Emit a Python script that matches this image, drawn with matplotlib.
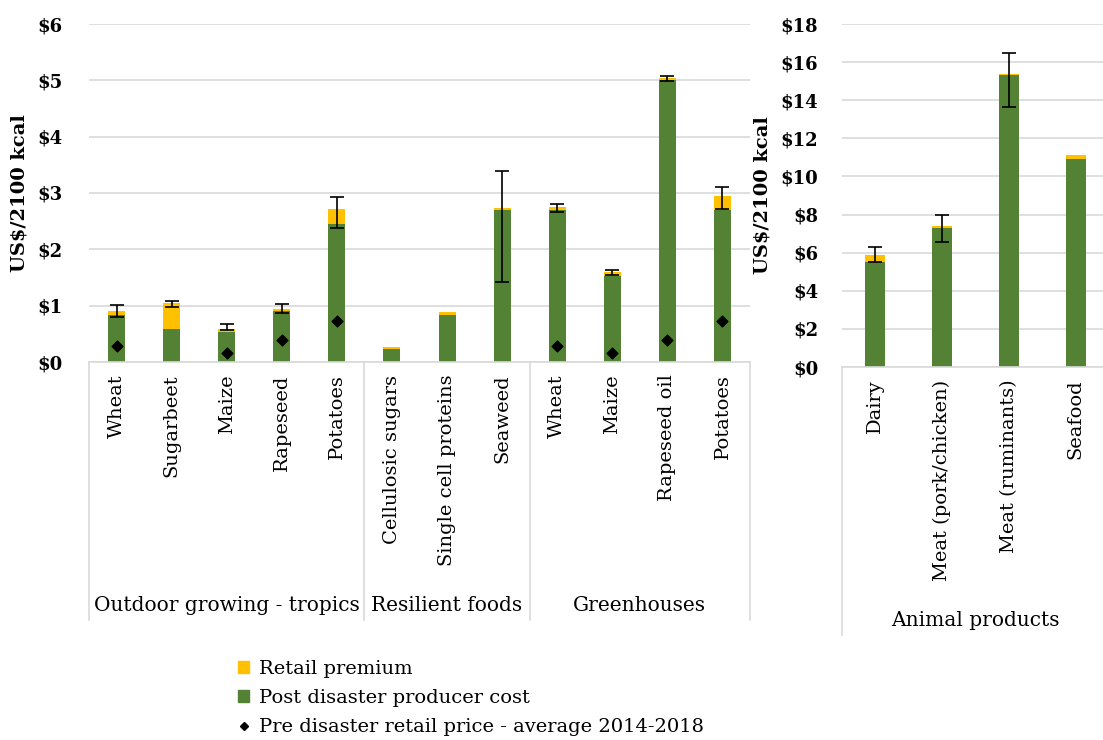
import matplotlib
matplotlib.use("Agg")
import matplotlib.pyplot as plt
import numpy as np
from matplotlib.lines import Line2D
from matplotlib.patches import Patch

plt.rcParams['font.family'] = 'DejaVu Serif'

# --- data: crops / resilient foods (left panel)
left_labels = ["Wheat", "Sugarbeet", "Maize", "Rapeseed", "Potatoes",
               "Cellulosic sugars", "Single cell proteins", "Seaweed",
               "Wheat", "Maize", "Rapeseed oil", "Potatoes"]
left_groups = ["Outdoor growing - tropics", "Resilient foods", "Greenhouses"]
left_group_sizes = [5, 3, 4]
left_producer = [0.83, 0.59, 0.54, 0.91, 2.45, 0.23, 0.83, 2.69, 2.69, 1.53, 5.01, 2.69]
left_retail = [0.905, 1.05, 0.59, 0.94, 2.72, 0.27, 0.88, 2.73, 2.76, 1.59, 5.04, 2.94]
left_err_lo = [0.80, 0.98, 0.57, 0.87, 2.38, np.nan, np.nan, 1.42, 2.67, 1.55, 4.98, 2.72]
left_err_hi = [1.01, 1.08, 0.67, 1.03, 2.93, np.nan, np.nan, 3.39, 2.81, 1.64, 5.08, 3.10]
left_pre = [0.28, np.nan, 0.16, 0.39, 0.73, np.nan, np.nan, np.nan, 0.28, 0.16, 0.39, 0.73]

# --- data: animal products (right panel)
right_labels = ["Dairy", "Meat (pork/chicken)", "Meat (ruminants)", "Seafood"]
right_group = "Animal products"
right_producer = [5.5, 7.28, 15.3, 10.94]
right_retail = [5.9, 7.38, 15.38, 11.15]
right_err_lo = [5.5, 6.55, 13.66, np.nan]
right_err_hi = [6.28, 8.0, 16.5, np.nan]

GREEN = '#548235'
YELLOW = '#FFC000'
GRID = '#D9D9D9'

fig = plt.figure(figsize=(11.03, 7.40), dpi=100)
W, H = 1103, 740
ax1 = fig.add_axes([89 / W, (H - 362) / H, 661 / W, 338 / H])
ax2 = fig.add_axes([842 / W, (H - 367) / H, 261 / W, 343 / H])


def draw_panel(ax, labels, producer, retail, err_lo, err_hi, width):
    x = np.arange(len(labels))
    producer = np.array(producer)
    retail = np.array(retail)
    ax.bar(x, producer, width, color=GREEN, zorder=2)
    ax.bar(x, retail - producer, width, bottom=producer, color=YELLOW, zorder=2)
    tot = retail
    lo = np.array(err_lo)
    hi = np.array(err_hi)
    m = ~np.isnan(lo)
    ax.errorbar(x[m], tot[m], yerr=[tot[m] - lo[m], hi[m] - tot[m]], fmt='none',
                ecolor='black', elinewidth=1.2, capsize=5, capthick=1.2, zorder=3)
    ax.set_xticks(x)
    ax.set_xticklabels(labels, rotation=90, fontsize=14)
    ax.tick_params(axis='x', length=0, pad=9)
    ax.tick_params(axis='y', length=0, pad=19, labelsize=13)
    ax.grid(axis='y', color=GRID, lw=1.2, zorder=0)
    ax.set_axisbelow(True)
    for s in ['top', 'right', 'left']:
        ax.spines[s].set_visible(False)
    ax.spines['bottom'].set_color(GRID)
    ax.spines['bottom'].set_linewidth(1.2)
    ax.set_ylabel("US$/2100 kcal", fontsize=14, fontweight='bold')
    return x


x1 = draw_panel(ax1, left_labels, left_producer, left_retail, left_err_lo, left_err_hi, 0.31)
ax1.scatter(x1, left_pre, marker='D', s=30, color='black', zorder=4)
ax1.set_xlim(-0.5, len(left_labels) - 0.5)
ax1.set_ylim(0, 6)
ax1.set_yticks(range(0, 7))
ax1.set_yticklabels([f"${v}" for v in range(0, 7)], fontweight='bold')
ax1.yaxis.set_label_coords(-0.092, 0.5)

# group separators and labels, left panel
tr1 = ax1.get_xaxis_transform()
bounds = np.concatenate([[0], np.cumsum(left_group_sizes)]) - 0.5
for b in bounds:
    ax1.plot([b, b], [0, -0.763], transform=tr1, color=GRID, lw=1.2, clip_on=False)
for g, a, b in zip(left_groups, bounds[:-1], bounds[1:]):
    ax1.text((a + b) / 2, -0.719, g, transform=tr1, ha='center', va='center', fontsize=14.5)

x2 = draw_panel(ax2, right_labels, right_producer, right_retail, right_err_lo, right_err_hi, 0.3)
ax2.set_xlim(-0.5, 3.41)
ax2.set_ylim(0, 18)
ax2.set_yticks(range(0, 19, 2))
ax2.set_yticklabels([f"${v}" for v in range(0, 19, 2)], fontweight='bold')
ax2.tick_params(axis='y', pad=17)
ax2.yaxis.set_label_coords(-0.27, 0.5)
tr2 = ax2.get_xaxis_transform()
ax2.plot([-0.5, -0.5], [0, -0.781], transform=tr2, color=GRID, lw=1.2, clip_on=False)
ax2.text(1.5, -0.738, right_group, transform=tr2, ha='center', va='center', fontsize=14.5)

handles = [Patch(color=YELLOW, label="Retail premium"),
           Patch(color=GREEN, label="Post disaster producer cost"),
           Line2D([], [], marker='D', ls='none', color='black', markersize=4,
                  label="Pre disaster retail price - average 2014-2018")]
fig.legend(handles=handles, loc='upper left', bbox_to_anchor=(230 / W, 1 - 652 / H),
           frameon=False, fontsize=14, handlelength=0.6, handleheight=0.6,
           handletextpad=0.5, labelspacing=0.58, borderaxespad=0)

fig.savefig("out.png", dpi=100)
